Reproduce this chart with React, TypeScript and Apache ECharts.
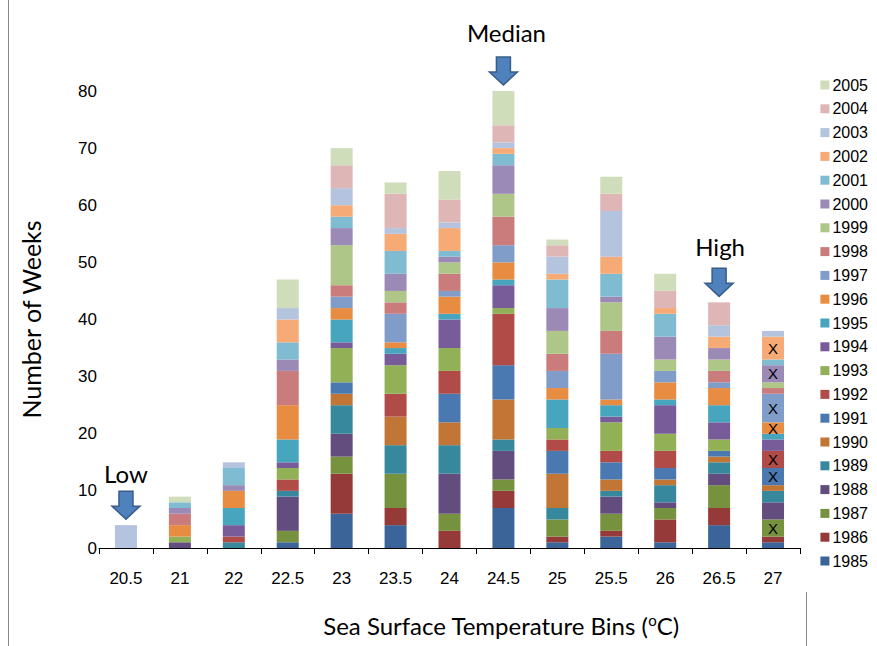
import React, { useEffect, useRef } from "react";
import * as echarts from "echarts";

const categories = ["20.5", "21", "22", "22.5", "23", "23.5", "24", "24.5", "25", "25.5", "26", "26.5", "27"];
const years = ["1985", "1986", "1987", "1988", "1989", "1990", "1991", "1992", "1993", "1994", "1995", "1996", "1997", "1998", "1999", "2000", "2001", "2002", "2003", "2004", "2005"];
const yTicks = [0, 10, 20, 30, 40, 50, 60, 70, 80];

const y1985 = [0, 0, 0, 1, 6, 4, 0, 7, 1, 2, 1, 4, 1];
const y1986 = [0, 0, 0, 0, 7, 3, 3, 3, 1, 1, 4, 3, 1];
const y1987 = [0, 0, 0, 2, 3, 6, 3, 2, 3, 3, 2, 4, 3];
const y1988 = [0, 1, 0, 6, 4, 0, 7, 5, 0, 3, 1, 2, 3];
const y1989 = [0, 0, 1, 1, 5, 5, 5, 2, 2, 1, 3, 2, 2];
const y1990 = [0, 0, 0, 0, 2, 5, 4, 7, 6, 2, 1, 1, 1];
const y1991 = [0, 0, 0, 0, 2, 0, 5, 6, 4, 3, 2, 1, 3];
const y1992 = [0, 0, 1, 2, 0, 4, 4, 9, 2, 2, 3, 0, 3];
const y1993 = [0, 1, 0, 2, 6, 5, 4, 1, 2, 5, 3, 2, 0];
const y1994 = [0, 0, 2, 1, 1, 2, 5, 4, 0, 1, 5, 3, 2];
const y1995 = [0, 0, 3, 4, 4, 1, 1, 1, 5, 2, 1, 3, 1];
const y1996 = [0, 2, 3, 6, 2, 1, 3, 3, 2, 1, 3, 3, 2];
const y1997 = [0, 0, 0, 0, 2, 5, 1, 3, 3, 8, 2, 1, 5];
const y1998 = [0, 2, 0, 6, 2, 2, 3, 5, 3, 4, 0, 2, 1];
const y1999 = [0, 0, 0, 0, 7, 2, 2, 4, 4, 5, 2, 2, 1];
const y2000 = [0, 1, 1, 2, 3, 3, 1, 5, 4, 1, 4, 2, 3];
const y2001 = [0, 1, 3, 3, 2, 4, 1, 2, 5, 4, 4, 0, 1];
const y2002 = [0, 0, 0, 4, 2, 3, 4, 1, 1, 3, 1, 2, 4];
const y2003 = [4, 0, 1, 2, 3, 1, 1, 1, 3, 8, 0, 2, 1];
const y2004 = [0, 0, 0, 0, 4, 6, 4, 3, 2, 3, 3, 4, 0];
const y2005 = [0, 1, 0, 5, 3, 2, 5, 6, 1, 3, 3, 0, 0];

const seriesValues = [y1985, y1986, y1987, y1988, y1989, y1990, y1991, y1992, y1993, y1994, y1995, y1996, y1997, y1998, y1999, y2000, y2001, y2002, y2003, y2004, y2005];

const colors = [
  "#3B6499", "#953A38", "#76923F", "#634C7E", "#37889C", "#C17636", "#4A78B0", "#B04B48",
  "#92B055", "#785C99", "#47A5BE", "#E88C42", "#809CC9", "#C97C7B", "#AEC688", "#9B8AB5",
  "#7FBBD1", "#F6AA76", "#B4C3DE", "#DEB6B5", "#D0DDBB",
];

// years whose segment in the last bin carries an "X" mark
const markedYears = ["1987", "1991", "1992", "1996", "1997", "2000", "2002"];
const markedBin = "27";

const annotations = [
  { text: "Low", bin: "20.5", value: 4 },
  { text: "Median", bin: "24.5", value: 80 },
  { text: "High", bin: "26.5", value: 43 },
];
// label lift above arrow (layout only)
const labelGap: Record<string, number> = { Low: 6, Median: 13, High: 10 };
const labelShift: Record<string, number> = { Low: 0, Median: 3, High: 1 };

const TICK_FONT = "'Liberation Sans', Arial, sans-serif";
const TITLE_FONT = "Lato, 'Open Sans', sans-serif";

export default function App() {
  const ref = useRef<HTMLDivElement>(null);

  useEffect(() => {
    if (!ref.current) return;
    const chart = echarts.init(ref.current, undefined, { renderer: "svg" });
    const markedIdx = categories.indexOf(markedBin);

    const series = years.map((yr, i) => ({
      name: yr,
      type: "bar",
      stack: "total",
      barWidth: 22,
      data: seriesValues[i],
      itemStyle: { color: colors[i] },
      label: {
        show: markedYears.includes(yr),
        position: "inside",
        color: "#000",
        fontSize: 15,
        fontFamily: TICK_FONT,
        formatter: (p: any) => (p.dataIndex === markedIdx ? "X" : ""),
      },
    }));

    chart.setOption({
      animation: false,
      backgroundColor: "#fff",
      grid: { left: 99, right: 77, top: 91, bottom: 98 },
      legend: {
        orient: "vertical",
        right: 4,
        top: 72,
        data: years.slice().reverse(),
        icon: "rect",
        itemWidth: 9,
        itemHeight: 9,
        itemGap: 7.8,
        textStyle: { fontSize: 16, lineHeight: 16, color: "#000", fontFamily: TICK_FONT, padding: [0, 0, 0, -2] },
      },
      xAxis: {
        type: "category",
        data: categories,
        axisLine: { show: true, lineStyle: { color: "#000", width: 1 } },
        axisTick: { show: true, length: 6, lineStyle: { color: "#000" } },
        axisLabel: { color: "#000", fontSize: 17, fontFamily: TICK_FONT, margin: 22 },
      },
      yAxis: {
        type: "value",
        min: 0,
        max: 80,
        interval: 10,
        splitLine: { show: false },
        axisLine: { show: false },
        axisTick: { show: false },
        axisLabel: { color: "#000", fontSize: 17, fontFamily: TICK_FONT, margin: 2, formatter: (v: number) => (yTicks.includes(v) ? String(v) : "") },
        name: "Number of Weeks",
        nameLocation: "middle",
        nameGap: 56,
        nameTextStyle: { fontSize: 25, fontFamily: TITLE_FONT, color: "#000" },
      },
      series,
    });

    const graphics: any[] = [];
    annotations.forEach((a) => {
      const [px, py] = chart.convertToPixel({ gridIndex: 0 }, [a.bin, a.value]) as number[];
      const tipY = py - 6;
      const top = tipY - 28;
      const headY = tipY - 13;
      graphics.push({
        type: "polygon",
        shape: {
          points: [
            [px - 7, top], [px + 7, top], [px + 7, headY], [px + 14, headY],
            [px, tipY], [px - 14, headY], [px - 7, headY],
          ],
        },
        style: { fill: "#4F81BD", stroke: "#385D8A", lineWidth: 1.5 },
        z: 10,
      });
      graphics.push({
        type: "text",
        x: px + (labelShift[a.text] || 0),
        y: top - (labelGap[a.text] || 8),
        style: { text: a.text, fontSize: 24, fontFamily: TITLE_FONT, fill: "#000", align: "center", verticalAlign: "bottom" },
        z: 10,
      });
    });
    graphics.push({
      type: "text",
      x: 501,
      y: 625,
      style: {
        text: "{a|Sea Surface Temperature Bins (}{s|o}{a|C)}",
        align: "center",
        verticalAlign: "middle",
        rich: {
          a: { fontSize: 24, fontFamily: TITLE_FONT, fill: "#000", lineHeight: 26 },
          s: { fontSize: 15, fontFamily: TITLE_FONT, fill: "#000", lineHeight: 26, verticalAlign: "top", padding: [0, 0, 10, 0] },
        },
      },
    });
    graphics.push({ type: "line", shape: { x1: 8.5, y1: 0, x2: 8.5, y2: 646 }, style: { stroke: "#888", lineWidth: 1 } });
    graphics.push({ type: "line", shape: { x1: 806.5, y1: 592, x2: 806.5, y2: 646 }, style: { stroke: "#888", lineWidth: 1 } });
    chart.setOption({ graphic: graphics });

    return () => chart.dispose();
  }, []);

  return <div ref={ref} style={{ position: "absolute", left: 0, top: 0, width: 877, height: 646 }} />;
}
